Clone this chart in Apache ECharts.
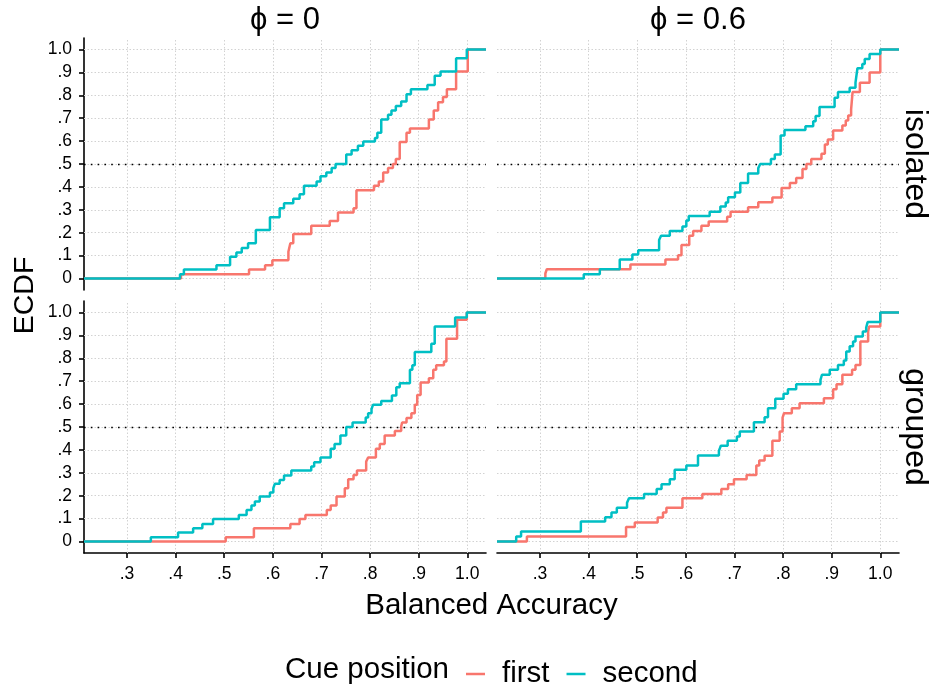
<!DOCTYPE html>
<html>
<head>
<meta charset="utf-8">
<script src="https://cdn.jsdelivr.net/npm/echarts@6/dist/echarts.min.js"></script>
<style>
  html, body { margin: 0; padding: 0; background: #ffffff; }
  #chart { width: 932px; height: 686px; }
</style>
</head>
<body>
<div id="chart"></div>
<script>
// Axis ticks and their printed labels
const xTicks = [0.3, 0.4, 0.5, 0.6, 0.7, 0.8, 0.9, 1.0];
const xTickLabels = ['.3', '.4', '.5', '.6', '.7', '.8', '.9', '1.0'];
const yTicks = [0, 0.1, 0.2, 0.3, 0.4, 0.5, 0.6, 0.7, 0.8, 0.9, 1.0];
const yTickLabels = ['0', '.1', '.2', '.3', '.4', '.5', '.6', '.7', '.8', '.9', '1.0'];

// Facet levels
const phiLevels = ['\u03D5 = 0', '\u03D5 = 0.6'];
const layoutLevels = ['isolated', 'grouped'];
const cueNames = ['first', 'second'];

// ECDF step points: [balanced accuracy, cumulative proportion after the step]
const isolatedPhi0First = [[0.411,0.019],[0.551,0.039],[0.584,0.058],[0.599,0.080],[0.632,0.117],[0.636,0.154],[0.642,0.194],[0.679,0.231],[0.717,0.251],[0.734,0.288],[0.766,0.307],[0.772,0.385],[0.808,0.405],[0.818,0.424],[0.827,0.463],[0.837,0.482],[0.847,0.5],[0.853,0.522],[0.861,0.596],[0.875,0.636],[0.882,0.655],[0.921,0.694],[0.931,0.734],[0.940,0.770],[0.950,0.792],[0.958,0.826],[0.977,0.904],[1.001,1]];
const isolatedPhi0Second = [[0.409,0.019],[0.417,0.039],[0.484,0.058],[0.512,0.095],[0.525,0.114],[0.536,0.133],[0.549,0.154],[0.565,0.212],[0.594,0.268],[0.614,0.307],[0.623,0.329],[0.642,0.348],[0.655,0.368],[0.664,0.405],[0.690,0.424],[0.698,0.446],[0.710,0.463],[0.721,0.482],[0.729,0.5],[0.751,0.541],[0.762,0.560],[0.775,0.580],[0.786,0.598],[0.810,0.614],[0.815,0.636],[0.823,0.694],[0.837,0.715],[0.844,0.734],[0.853,0.753],[0.864,0.773],[0.875,0.804],[0.884,0.826],[0.918,0.845],[0.933,0.885],[0.945,0.904],[0.977,0.962],[0.999,1]];
const isolatedPhi06First = [[0.311,0.022],[0.314,0.041],[0.486,0.061],[0.558,0.083],[0.584,0.102],[0.591,0.146],[0.607,0.187],[0.615,0.208],[0.632,0.230],[0.647,0.249],[0.685,0.270],[0.692,0.292],[0.728,0.311],[0.749,0.333],[0.778,0.354],[0.797,0.395],[0.814,0.417],[0.827,0.439],[0.840,0.478],[0.848,0.5],[0.858,0.522],[0.879,0.545],[0.886,0.585],[0.892,0.607],[0.903,0.646],[0.922,0.668],[0.929,0.690],[0.934,0.712],[0.940,0.738],[0.943,0.814],[0.958,0.855],[0.978,0.899],[1.0,1]];
const isolatedPhi06Second = [[0.390,0.019],[0.423,0.041],[0.464,0.083],[0.490,0.105],[0.502,0.124],[0.545,0.168],[0.549,0.187],[0.567,0.208],[0.593,0.227],[0.601,0.253],[0.606,0.273],[0.649,0.292],[0.671,0.314],[0.682,0.332],[0.687,0.355],[0.701,0.376],[0.712,0.417],[0.728,0.458],[0.749,0.482],[0.753,0.5],[0.775,0.522],[0.783,0.541],[0.795,0.624],[0.803,0.648],[0.846,0.665],[0.862,0.687],[0.867,0.709],[0.875,0.749],[0.906,0.789],[0.913,0.814],[0.937,0.833],[0.949,0.855],[0.953,0.918],[0.963,0.936],[0.968,0.958],[0.978,0.980],[1.0,1]];
const groupedPhi0First = [[0.503,0.019],[0.561,0.058],[0.636,0.077],[0.655,0.098],[0.667,0.116],[0.711,0.138],[0.719,0.157],[0.731,0.197],[0.748,0.233],[0.755,0.272],[0.766,0.291],[0.773,0.310],[0.792,0.349],[0.796,0.367],[0.812,0.405],[0.820,0.426],[0.830,0.463],[0.851,0.483],[0.864,0.502],[0.866,0.520],[0.875,0.539],[0.885,0.560],[0.892,0.597],[0.897,0.640],[0.904,0.694],[0.921,0.713],[0.930,0.750],[0.936,0.769],[0.952,0.786],[0.957,0.885],[0.979,0.968],[0.999,1]];
const groupedPhi0Second = [[0.349,0.019],[0.405,0.039],[0.436,0.058],[0.455,0.077],[0.477,0.098],[0.530,0.116],[0.546,0.138],[0.556,0.157],[0.563,0.175],[0.573,0.197],[0.594,0.214],[0.601,0.233],[0.604,0.252],[0.614,0.269],[0.623,0.288],[0.638,0.310],[0.679,0.328],[0.685,0.346],[0.698,0.367],[0.719,0.405],[0.727,0.426],[0.739,0.463],[0.751,0.5],[0.764,0.520],[0.791,0.541],[0.796,0.560],[0.803,0.578],[0.806,0.597],[0.823,0.614],[0.845,0.638],[0.854,0.674],[0.861,0.691],[0.882,0.750],[0.887,0.769],[0.892,0.827],[0.926,0.863],[0.933,0.939],[0.975,0.978],[0.999,1]];
const groupedPhi06First = [[0.273,0.022],[0.477,0.063],[0.495,0.083],[0.542,0.105],[0.553,0.127],[0.560,0.148],[0.593,0.189],[0.634,0.208],[0.673,0.229],[0.687,0.250],[0.699,0.272],[0.725,0.291],[0.745,0.332],[0.751,0.354],[0.762,0.374],[0.778,0.440],[0.793,0.480],[0.799,0.541],[0.802,0.560],[0.818,0.582],[0.834,0.604],[0.884,0.626],[0.903,0.665],[0.910,0.687],[0.922,0.728],[0.942,0.750],[0.949,0.771],[0.959,0.873],[0.975,0.917],[0.977,0.939],[1.0,1]];
const groupedPhi06Second = [[0.251,0.022],[0.261,0.044],[0.384,0.087],[0.434,0.106],[0.447,0.127],[0.458,0.148],[0.479,0.169],[0.483,0.189],[0.514,0.208],[0.540,0.229],[0.550,0.250],[0.567,0.272],[0.577,0.313],[0.601,0.332],[0.625,0.376],[0.668,0.396],[0.672,0.418],[0.686,0.440],[0.705,0.459],[0.711,0.480],[0.740,0.521],[0.762,0.543],[0.769,0.582],[0.784,0.623],[0.801,0.645],[0.810,0.665],[0.827,0.687],[0.877,0.706],[0.880,0.728],[0.896,0.750],[0.913,0.771],[0.925,0.790],[0.930,0.830],[0.937,0.852],[0.944,0.873],[0.949,0.895],[0.964,0.917],[0.971,0.934],[0.974,0.958],[1.0,1]];

// Reference level drawn as a dotted line in every panel
const medianLevel = 0.5;

// Shared axis limits (data range plus padding)
const xRange = [0.2115, 1.0385];
const yRange = [-0.05, 1.05];

const cueColors = ['#F8766D', '#00BFC4'];
const FONT = 'Liberation Sans, Arial, Helvetica, sans-serif';
const INK = '#000000';

// Panels in row-major order
const panels = [
  { row: 0, col: 0, lines: [isolatedPhi0First, isolatedPhi0Second] },
  { row: 0, col: 1, lines: [isolatedPhi06First, isolatedPhi06Second] },
  { row: 1, col: 0, lines: [groupedPhi0First, groupedPhi0Second] },
  { row: 1, col: 1, lines: [groupedPhi06First, groupedPhi06Second] }
];

const colLeft = [84, 497];
const rowTop = [38, 301];
const panelW = 402;
const panelH = 252;

const gridLineStyle = { color: '#d2d2d2', width: 1, type: [1.5, 2] };
const medianStyle = { color: INK, width: 1.4, type: [1.6, 5.2] };
const axisInk = { color: INK, width: 1.6 };

const labelFor = (ticks, labels) => v => {
  const k = ticks.findIndex(t => Math.abs(t - v) < 1e-6);
  return k < 0 ? '' : labels[k];
};

const grids = [], xAxes = [], yAxes = [], series = [];

panels.forEach((p, i) => {
  const bottomRow = p.row === 1;
  const leftCol = p.col === 0;
  grids.push({ left: colLeft[p.col], top: rowTop[p.row], width: panelW, height: panelH, containLabel: false });

  xAxes.push({
    type: 'value', gridIndex: i, min: xRange[0], max: xRange[1],
    axisLine: { show: bottomRow, onZero: false, lineStyle: axisInk },
    axisTick: { show: bottomRow, customValues: xTicks, length: 5, lineStyle: axisInk },
    axisLabel: {
      show: bottomRow, customValues: xTicks, margin: 12,
      fontFamily: FONT, fontSize: 17.5, color: INK,
      formatter: labelFor(xTicks, xTickLabels)
    },
    splitLine: { show: false }
  });

  yAxes.push({
    type: 'value', gridIndex: i, min: yRange[0], max: yRange[1],
    axisLine: { show: leftCol, onZero: false, lineStyle: axisInk },
    axisTick: { show: leftCol, customValues: yTicks, length: 5, lineStyle: axisInk },
    axisLabel: {
      show: leftCol, customValues: yTicks, margin: 12,
      fontFamily: FONT, fontSize: 17.5, color: INK,
      formatter: labelFor(yTicks, yTickLabels)
    },
    splitLine: { show: false }
  });

  // panel grid at the tick positions, then the dotted median reference line
  const guideLines = xTicks.map(v => ({ xAxis: v, lineStyle: gridLineStyle }))
    .concat(yTicks.map(v => ({ yAxis: v, lineStyle: gridLineStyle })))
    .concat([{ yAxis: medianLevel, lineStyle: medianStyle }]);
  series.push({
    type: 'line', xAxisIndex: i, yAxisIndex: i, data: [], silent: true, z: 1,
    markLine: {
      z: 1, silent: true, symbol: 'none', animation: false,
      label: { show: false },
      emphasis: { disabled: true },
      data: guideLines
    }
  });

  // one step line per cue position, padded to the panel edges like an ECDF
  p.lines.forEach((steps, c) => {
    series.push({
      type: 'line', name: cueNames[c], xAxisIndex: i, yAxisIndex: i,
      step: 'end', symbol: 'none', silent: true, z: 3 + c,
      color: cueColors[c],
      lineStyle: { color: cueColors[c], width: 2.5 },
      data: [[xRange[0], 0]].concat(steps, [[xRange[1], 1]])
    });
  });
});

const graphics = [];
// column strips
phiLevels.forEach((t, k) => {
  graphics.push({
    type: 'text', x: colLeft[k] + panelW / 2, y: 20, silent: true,
    style: { text: t, font: '31px ' + FONT, fill: INK, align: 'center', verticalAlign: 'middle' }
  });
});
// row strips
layoutLevels.forEach((t, k) => {
  graphics.push({
    type: 'text', x: 915, y: rowTop[k] + panelH / 2, rotation: -Math.PI / 2, silent: true,
    style: { text: t, font: '32px ' + FONT, fill: INK, align: 'center', verticalAlign: 'middle' }
  });
});
// axis titles
graphics.push({
  type: 'text', x: 25, y: (rowTop[0] + rowTop[1] + panelH) / 2, rotation: Math.PI / 2, silent: true,
  style: { text: 'ECDF', font: '28.5px ' + FONT, fill: INK, align: 'center', verticalAlign: 'middle' }
});
graphics.push({
  type: 'text', x: (colLeft[0] + colLeft[1] + panelW) / 2, y: 606, silent: true,
  style: { text: 'Balanced Accuracy', font: '29.5px ' + FONT, fill: INK, align: 'center', verticalAlign: 'middle' }
});
// legend title
graphics.push({
  type: 'text', x: 285, y: 670, silent: true,
  style: { text: 'Cue position', font: '29.5px ' + FONT, fill: INK, align: 'left', verticalAlign: 'middle' }
});

const chart = echarts.init(document.getElementById('chart'), null, { renderer: 'canvas' });
chart.setOption({
  animation: false,
  backgroundColor: '#ffffff',
  grid: grids,
  xAxis: xAxes,
  yAxis: yAxes,
  series: series,
  legend: {
    data: cueNames, left: 461, top: 654, orient: 'horizontal',
    icon: 'rect', itemWidth: 19, itemHeight: 2.5, itemGap: 17,
    selectedMode: false,
    textStyle: { fontFamily: FONT, fontSize: 29.5, color: INK, padding: [0, 0, 0, 12] }
  },
  graphic: graphics
});
</script>
</body>
</html>
